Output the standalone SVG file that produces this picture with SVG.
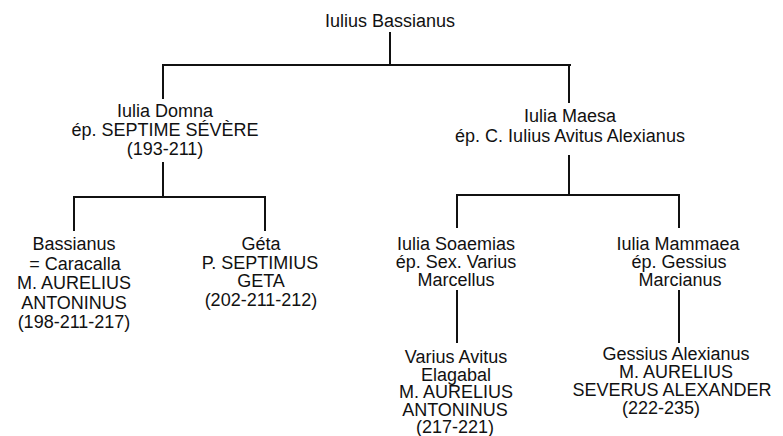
<svg xmlns="http://www.w3.org/2000/svg" width="783" height="436" viewBox="0 0 783 436">
<style>
text{font-family:"Liberation Sans",Arial,sans-serif;font-size:18px;fill:#111;text-anchor:middle}
.c line{stroke:#111;stroke-width:2;stroke-linecap:butt}
</style>
<rect width="783" height="436" fill="#fff"/>
<g class="c" id="connectors">
<line x1="390" y1="32" x2="390" y2="65"/>
<line x1="162" y1="65" x2="571" y2="65"/>
<line x1="163" y1="64" x2="163" y2="99"/>
<line x1="569" y1="64" x2="569" y2="103"/>
<line x1="163" y1="162" x2="163" y2="197"/>
<line x1="73" y1="197" x2="266" y2="197"/>
<line x1="74" y1="196" x2="74" y2="231"/>
<line x1="265" y1="196" x2="265" y2="231"/>
<line x1="569" y1="155" x2="569" y2="195"/>
<line x1="456" y1="195" x2="680" y2="195"/>
<line x1="457" y1="194" x2="457" y2="228"/>
<line x1="679" y1="194" x2="679" y2="228"/>
<line x1="457" y1="290" x2="457" y2="343"/>
<line x1="679" y1="290" x2="679" y2="343"/>
</g>
<g id="iulius-bassianus"><text x="390" y="27">Iulius Bassianus</text></g>
<g id="iulia-domna">
<text x="165" y="117">Iulia Domna</text>
<text x="165" y="136">ép. SEPTIME SÉVÈRE</text>
<text x="165" y="155">(193-211)</text>
</g>
<g id="iulia-maesa">
<text x="570" y="122">Iulia Maesa</text>
<text x="570" y="142">ép. C. Iulius Avitus Alexianus</text>
</g>
<g id="caracalla">
<text x="74" y="250">Bassianus</text>
<text x="75" y="269.5">= Caracalla</text>
<text x="74" y="289">M. AURELIUS</text>
<text x="74" y="308.5">ANTONINUS</text>
<text x="74" y="328">(198-211-217)</text>
</g>
<g id="geta">
<text x="261" y="250">Géta</text>
<text x="260" y="268.5">P. SEPTIMIUS</text>
<text x="261" y="287">GETA</text>
<text x="261" y="305.5">(202-211-212)</text>
</g>
<g id="iulia-soaemias">
<text x="456" y="250">Iulia Soaemias</text>
<text x="456" y="268">ép. Sex. Varius</text>
<text x="456" y="286">Marcellus</text>
</g>
<g id="iulia-mammaea">
<text x="678" y="250">Iulia Mammaea</text>
<text x="679" y="268">ép. Gessius</text>
<text x="680" y="286">Marcianus</text>
</g>
<g id="elagabal">
<text x="456" y="363">Varius Avitus</text>
<text x="456" y="380.5">Elagabal</text>
<text x="456" y="398">M. AURELIUS</text>
<text x="455" y="415.5">ANTONINUS</text>
<text x="455" y="433">(217-221)</text>
</g>
<g id="severus-alexander">
<text x="676" y="360">Gessius Alexianus</text>
<text x="676" y="378">M. AURELIUS</text>
<text x="672" y="396">SEVERUS ALEXANDER</text>
<text x="661" y="414">(222-235)</text>
</g>
</svg>
